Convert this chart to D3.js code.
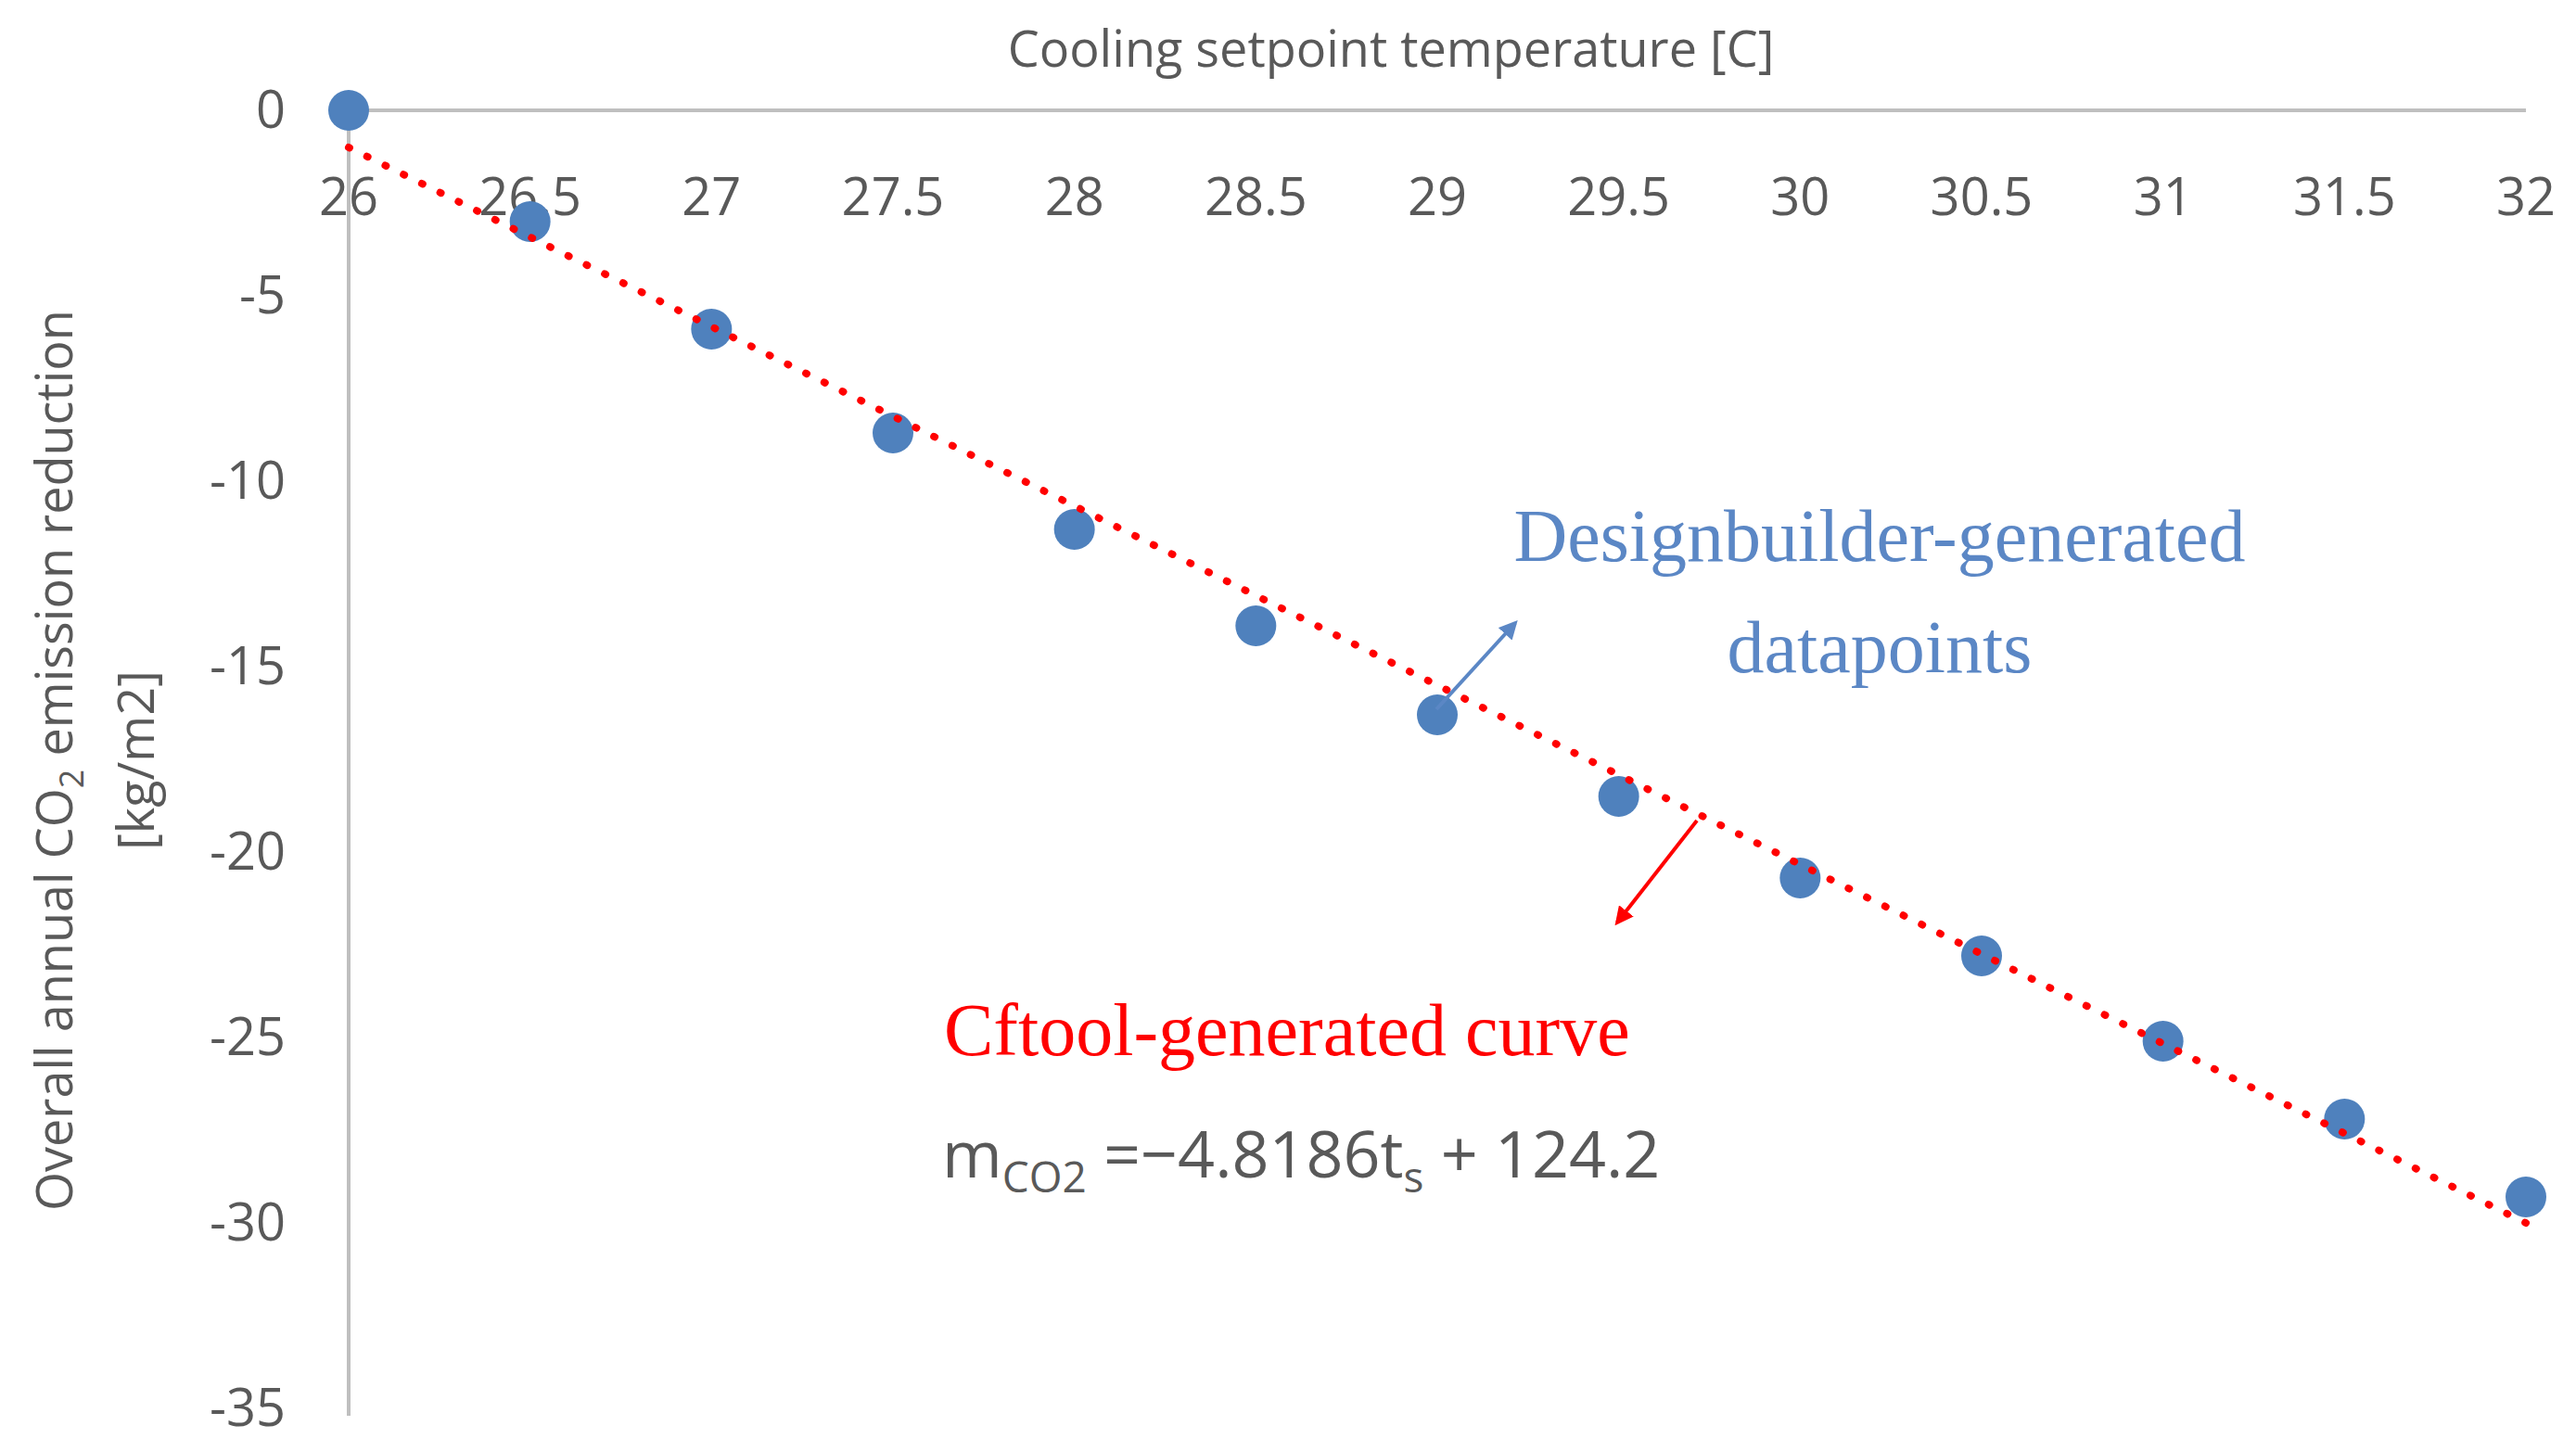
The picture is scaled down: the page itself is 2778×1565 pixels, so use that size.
<!DOCTYPE html>
<html>
<head>
<script src="https://d3js.org/d3.v7.min.js"></script>
<style>body{margin:0;background:#fff}</style>
</head>
<body>
<script>
// data
const temps = [26, 26.5, 27, 27.5, 28, 28.5, 29, 29.5, 30, 30.5, 31, 31.5, 32];
const reduction = [0, -3.0, -5.9, -8.7, -11.3, -13.9, -16.3, -18.5, -20.7, -22.8, -25.1, -27.2, -29.3];
const fitTemps = [26, 32];
const fitValues = [-1.0, -30.0];
const xTicks = [26, 26.5, 27, 27.5, 28, 28.5, 29, 29.5, 30, 30.5, 31, 31.5, 32];
const yTicks = [0, -5, -10, -15, -20, -25, -30, -35];

const W = 2778, H = 1565;
const grey = '#595959', blue = '#4F81BD';
const svg = d3.select('body').append('svg').attr('width', W).attr('height', H);

const x = d3.scaleLinear().domain([26, 32]).range([376, 2724]);
const y = d3.scaleLinear().domain([0, -35]).range([119, 1519]);

// axis lines
svg.append('line').attr('x1', x(26)).attr('x2', x(32)).attr('y1', y(0)).attr('y2', y(0))
    .attr('stroke', '#BFBFBF').attr('stroke-width', 4);
svg.append('line').attr('x1', x(26)).attr('x2', x(26)).attr('y1', y(0)).attr('y2', y(-35) + 8)
    .attr('stroke', '#BFBFBF').attr('stroke-width', 4);

const font = 'Open Sans, Calibri, sans-serif';
svg.append('g').selectAll('text').data(xTicks).join('text')
    .attr('x', d => x(d)).attr('y', 232).attr('text-anchor', 'middle')
    .attr('font-family', font).attr('font-size', 56).attr('fill', grey).text(d => d);
svg.append('g').selectAll('text').data(yTicks).join('text')
    .attr('x', 308).attr('y', d => y(d) + 19).attr('text-anchor', 'end')
    .attr('font-family', font).attr('font-size', 56).attr('fill', grey).text(d => d);

svg.append('text').attr('x', 1500).attr('y', 72).attr('text-anchor', 'middle')
    .attr('font-family', font).attr('font-size', 54).attr('fill', grey)
    .text('Cooling setpoint temperature [C]');

const yt = svg.append('text').attr('transform', 'translate(78,820) rotate(-90)')
    .attr('text-anchor', 'middle').attr('font-family', font).attr('font-size', 54).attr('fill', grey);
yt.append('tspan').text('Overall annual CO');
yt.append('tspan').attr('font-size', 36).attr('dy', 12).text('2');
yt.append('tspan').attr('dy', -12).text(' emission reduction');
svg.append('text').attr('transform', 'translate(166,820) rotate(-90)')
    .attr('text-anchor', 'middle').attr('font-family', font).attr('font-size', 54).attr('fill', grey)
    .text('[kg/m2]');

// points
svg.append('g').selectAll('circle').data(temps).join('circle')
    .attr('cx', d => x(d)).attr('cy', (d, i) => y(reduction[i])).attr('r', 22).attr('fill', blue);

// fitted dotted line
svg.append('path').datum(fitTemps)
    .attr('d', d3.line().x(d => x(d)).y((d, i) => y(fitValues[i])))
    .attr('stroke', '#FF0000').attr('stroke-width', 8).attr('fill', 'none')
    .attr('stroke-linecap', 'round').attr('stroke-dasharray', '1,21');

// annotations
const defs = svg.append('defs');
[['ab', '#5B87C5'], ['ar', '#FF0000']].forEach(([id, c]) => {
    defs.append('marker').attr('id', id).attr('viewBox', '0 0 10 10').attr('refX', 8).attr('refY', 5)
        .attr('markerWidth', 5).attr('markerHeight', 5).attr('orient', 'auto')
        .append('path').attr('d', 'M0,0 L10,5 L0,10 z').attr('fill', c);
});
svg.append('line').attr('x1', 1549).attr('y1', 765).attr('x2', 1634).attr('y2', 672)
    .attr('stroke', '#5B87C5').attr('stroke-width', 4).attr('marker-end', 'url(#ab)');
svg.append('line').attr('x1', 1830).attr('y1', 885).attr('x2', 1744).attr('y2', 995)
    .attr('stroke', '#FF0000').attr('stroke-width', 4).attr('marker-end', 'url(#ar)');

const serif = 'Liberation Serif, Times New Roman, serif';
svg.append('text').attr('x', 2027).attr('y', 605).attr('text-anchor', 'middle')
    .attr('font-family', serif).attr('font-size', 80).attr('fill', '#5B87C5').text('Designbuilder-generated');
svg.append('text').attr('x', 2027).attr('y', 725).attr('text-anchor', 'middle')
    .attr('font-family', serif).attr('font-size', 80).attr('fill', '#5B87C5').text('datapoints');
svg.append('text').attr('x', 1018).attr('y', 1138)
    .attr('font-family', serif).attr('font-size', 80).attr('fill', '#FF0000').text('Cftool-generated curve');

const eq = svg.append('text').attr('x', 1016).attr('y', 1270)
    .attr('font-family', font).attr('font-size', 70).attr('fill', grey);
eq.append('tspan').text('m');
eq.append('tspan').attr('font-size', 46).attr('dy', 16).text('CO2');
eq.append('tspan').attr('dy', -16).text(' =\u22124.8186t');
eq.append('tspan').attr('font-size', 46).attr('dy', 16).text('s');
eq.append('tspan').attr('dy', -16).text(' + 124.2');
</script>
</body>
</html>
